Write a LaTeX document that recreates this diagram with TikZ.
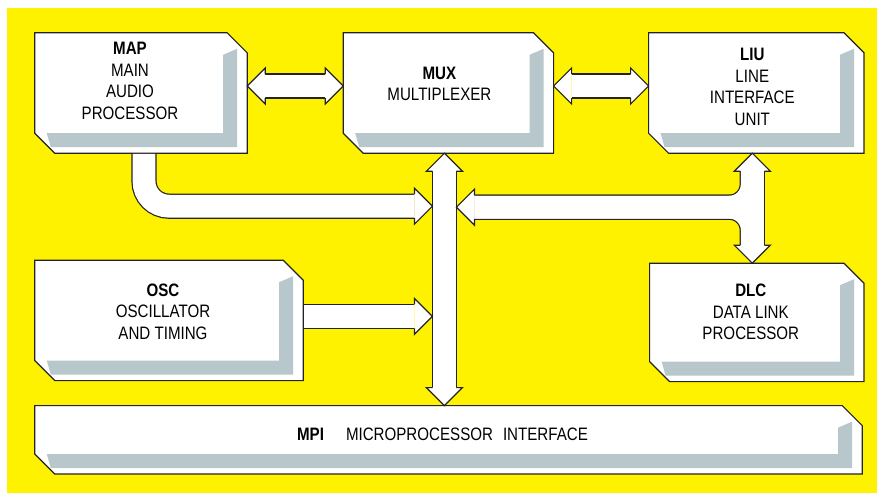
\documentclass[tikz,border=0pt]{standalone}
\usepackage{fontspec}
\setmainfont[FakeStretch=0.84]{Liberation Sans}
\usetikzlibrary{positioning,calc}

\definecolor{bgyellow}{RGB}{255,242,0}
\definecolor{inkline}{RGB}{35,35,35}
\definecolor{stipple}{RGB}{184,199,203}

\begin{document}
\begin{tikzpicture}[
    x=1pt, y=-1pt,
    block/.style={rectangle, inner sep=0pt, minimum height=120pt},
    outline/.style={fill=white, draw=inkline, line width=1.2pt, line join=miter},
    txt/.style={align=center, font=\fontsize{18}{21.5}\selectfont},
    pipe/.style 2 args={line width=#1, draw=#2},
    head/.style={fill=white, draw=inkline, line width=1.2pt, line join=miter}
]
\useasboundingbox (0,0) rectangle (879,496);
\fill[white] (0,0) rectangle (879,496);
\fill[bgyellow] (7,8) rectangle (877,493);

% blocks
\node[block, minimum width=212pt] (map) at (141,93) {};
\node[block, minimum width=210pt, right=96pt of map] (mux) {};
\node[block, minimum width=215pt, right=95pt of mux] (liu) {};
\node[block, minimum width=268pt, below right=107pt and 0pt of map.south west] (osc) {};
\node[block, minimum width=214pt, minimum height=118pt, below left=110pt and 0pt of liu.south east] (dlc) {};
\node[block, minimum width=827pt, minimum height=68pt, below right=25pt and 0pt of osc.south west] (mpi) {};

% cut corners and shaded edge
\foreach \n in {map,mux,liu,osc,dlc,mpi} {
  \filldraw[outline] (\n.north west) -- ([xshift=-20pt]\n.north east) -- ([yshift=-20pt]\n.north east) -- (\n.south east) -- ([xshift=20pt]\n.south west) -- ([yshift=20pt]\n.south west) -- cycle;
  \fill[stipple] ([xshift=-24pt,yshift=-22pt]\n.north east) -- ([xshift=-10pt,yshift=-16pt]\n.north east) -- ([xshift=-10pt,yshift=6pt]\n.south east) -- ([xshift=16pt,yshift=6pt]\n.south west) -- ([xshift=12pt,yshift=20pt]\n.south west) -- ([xshift=-24pt,yshift=20pt]\n.south east) -- cycle;
}

\node[txt] (maptxt) at ($(map)+(-11,-12)$) {\textbf{MAP}\\MAIN\\AUDIO\\PROCESSOR};
\node[txt] (muxtxt) at ($(mux)+(-9,-9)$) {\textbf{MUX}\\MULTIPLEXER};
\node[txt] (liutxt) at ($(liu)+(-4,-6)$) {\textbf{LIU}\\LINE\\INTERFACE\\UNIT};
\node[txt] (osctxt) at ($(osc)+(-6,-9)$) {\textbf{OSC}\\OSCILLATOR\\AND TIMING};
\node[txt] (dlctxt) at ($(dlc)+(-6,-10.5)$) {\textbf{DLC}\\DATA LINK\\PROCESSOR};
\node[txt] (mpitxt) at ($(mpi)+(-6,-6)$) {\textbf{MPI}\hspace{22pt}MICROPROCESSOR\hspace{10pt}INTERFACE};

% arrow ends
\coordinate (bustop) at ($(mux.south)+(-4,0)$);
\coordinate (busbot) at (bustop |- mpi.north);
\coordinate (busl) at ($(bustop)+(-12,0)$);
\coordinate (busr) at ($(bustop)+(12,0)$);
\coordinate (a1) at ($(map.east)+(0,-7)$);
\coordinate (a2) at (a1 -| mux.west);
\coordinate (b1) at ($(mux.east)+(0,-7)$);
\coordinate (b2) at (b1 -| liu.west);
\coordinate (c1) at ($(osc.east)+(0,-4)$);
\coordinate (c2) at (c1 -| busl);
\coordinate (d1) at ($(map.south)+(3,0)$);
\coordinate (d2) at ($(busl)+(0,53)$);
\coordinate (e1) at ($(liu.south)+(-4,0)$);
\coordinate (e2) at (e1 |- dlc.north);
\coordinate (e3) at ($(busr)+(0,54)$);

% pipes, outline first then inside
\foreach \w/\c in {25.2pt/inkline, 22.8pt/white} {
  \draw[pipe={\w}{\c}] ($(a1)+(18,0)$) -- ($(a2)+(-18,0)$);
  \draw[pipe={\w}{\c}] ($(b1)+(18,0)$) -- ($(b2)+(-18,0)$);
  \draw[pipe={\w}{\c}] ($(c1)+(0.7,0)$) -- ($(c2)+(-18,0)$);
  \draw[pipe={\w}{\c}] ($(bustop)+(0,18)$) -- ($(busbot)+(0,-18)$);
  \draw[pipe={\w}{\c}, rounded corners=25pt] ($(d1)+(0,0.7)$) |- ($(d2)+(-18,0)$);
  \draw[pipe={\w}{\c}] ($(e1)+(0,18)$) -- ($(e2)+(0,-18)$);
  \draw[pipe={\w}{\c}, rounded corners=23pt] ($(e1)+(0,18)$) |- ($(e3)+(18,0)$);
  \draw[pipe={\w}{\c}, rounded corners=23pt] ($(e2)+(0,-18)$) |- ($(e3)+(18,0)$);
}

% heads
\foreach \p/\a in {a1/180, a2/0, b1/180, b2/0, c2/0, d2/0, e3/180, e1/90, e2/-90, bustop/90, busbot/-90}
  \filldraw[head, shift={(\p)}, rotate=\a] (-18,-12) -- (-18,-18) -- (0,0) -- (-18,18) -- (-18,12);

\end{tikzpicture}
\end{document}
